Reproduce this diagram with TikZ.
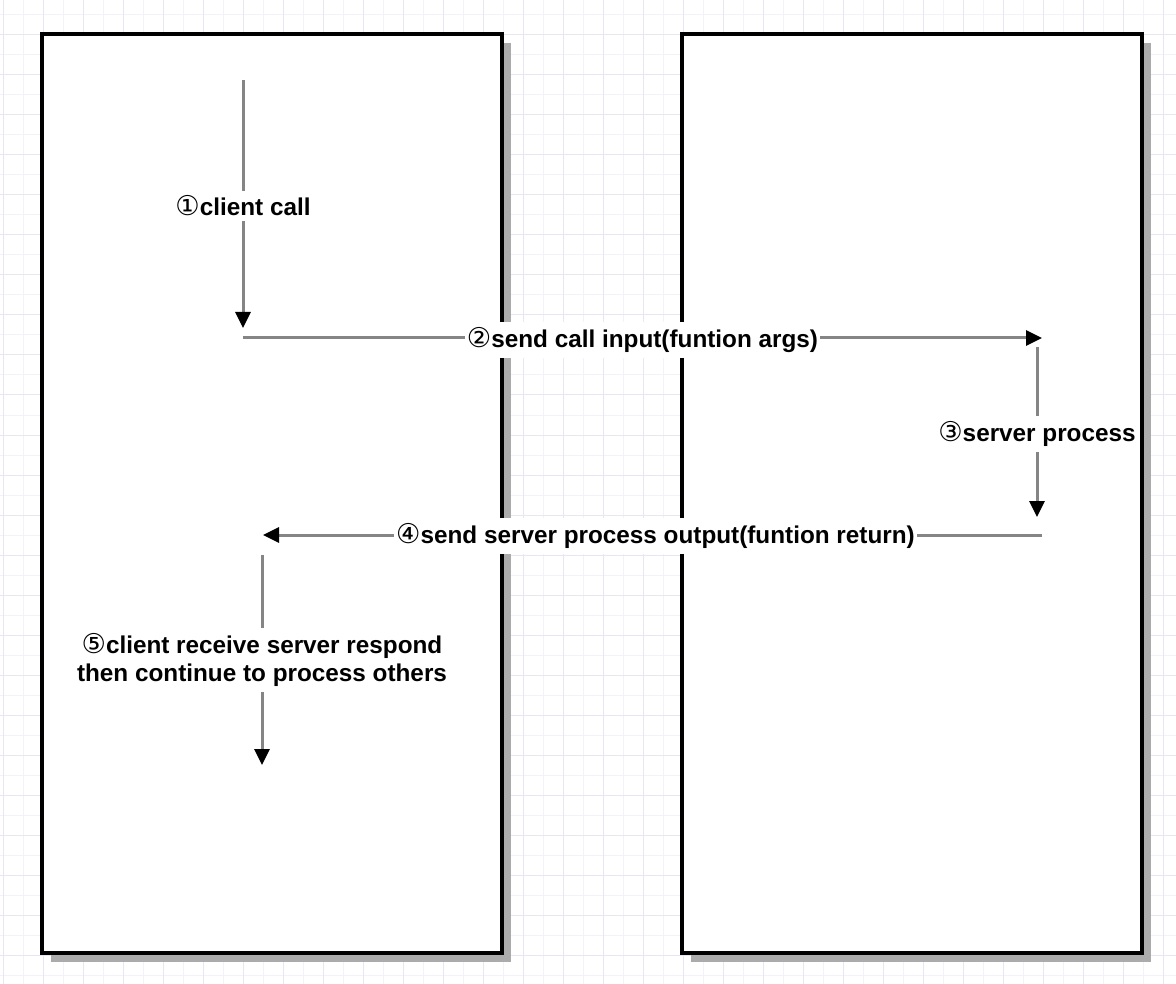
\documentclass[tikz,border=0pt]{standalone}
\usepackage{fontspec}
\setmainfont{Liberation Sans}
\newfontfamily\circfont[Scale=1.12]{DejaVu Sans}
\usetikzlibrary{arrows.meta,shadows}
\definecolor{gridminor}{HTML}{F2F2FA}
\definecolor{gridmajor}{HTML}{E7E7F2}
\definecolor{flowgray}{HTML}{858585}
\definecolor{shadowgray}{HTML}{ABABAB}

\begin{document}
\begin{tikzpicture}[x=1pt,y=-1pt]
\tikzstyle{box}=[draw=black,line width=4pt,fill=white,inner sep=0pt,minimum width=460pt,minimum height=919pt,drop shadow={shadow xshift=9pt,shadow yshift=-9pt,fill=shadowgray,opacity=1}]
\tikzstyle{flow}=[draw=flowgray,line width=3pt,-{Triangle[length=16pt,width=15pt,color=black]}]
\tikzstyle{lbl}=[fill=white,inner xsep=2pt,inner ysep=5pt,font=\bfseries\fontsize{24.3}{28}\selectfont]
\useasboundingbox (0,0) rectangle (1176,984);
\clip (0,0) rectangle (1176,984);
\fill[white] (0,0) rectangle (1176,984);
\draw[gridminor,line width=1pt,step=20pt,shift={(3,15)}] (-20,-40) grid (1200,1000);
\draw[gridmajor,line width=1pt,step=40pt,shift={(3,35)}] (-40,-80) grid (1200,1000);
\node[box] (client) at (272,493.5) {};
\node[box] (server) at (912,493.5) {};
\coordinate (c1) at (243,80);
\coordinate (c2) at (243,328);
\coordinate (c3) at (243,338);
\coordinate (s1) at (1042,338);
\coordinate (s2) at (1037,347);
\coordinate (s3) at (1037,517);
\coordinate (s4) at (1042,535);
\coordinate (c4) at (263,535);
\coordinate (c5) at (262,555);
\coordinate (c6) at (262,765);
\draw[flow] (c1) -- node[lbl,yshift=-2pt] (call) {{\circfont\mdseries ①}client call} (c2);
\draw[flow] (c3) -- node[lbl,yshift=-2pt] (send) {{\circfont\mdseries ②}send call input(funtion args)} (s1);
\draw[flow] (s2) -- node[lbl,yshift=-2pt] (proc) {{\circfont\mdseries ③}server process} (s3);
\draw[flow] (s4) -- node[lbl,xshift=3pt,yshift=-1pt] (back) {{\circfont\mdseries ④}send server process output(funtion return)} (c4);
\draw[flow] (c5) -- node[lbl,align=center] (recv) {{\circfont\mdseries ⑤}client receive server respond\\then continue to process others} (c6);
\end{tikzpicture}
\end{document}
